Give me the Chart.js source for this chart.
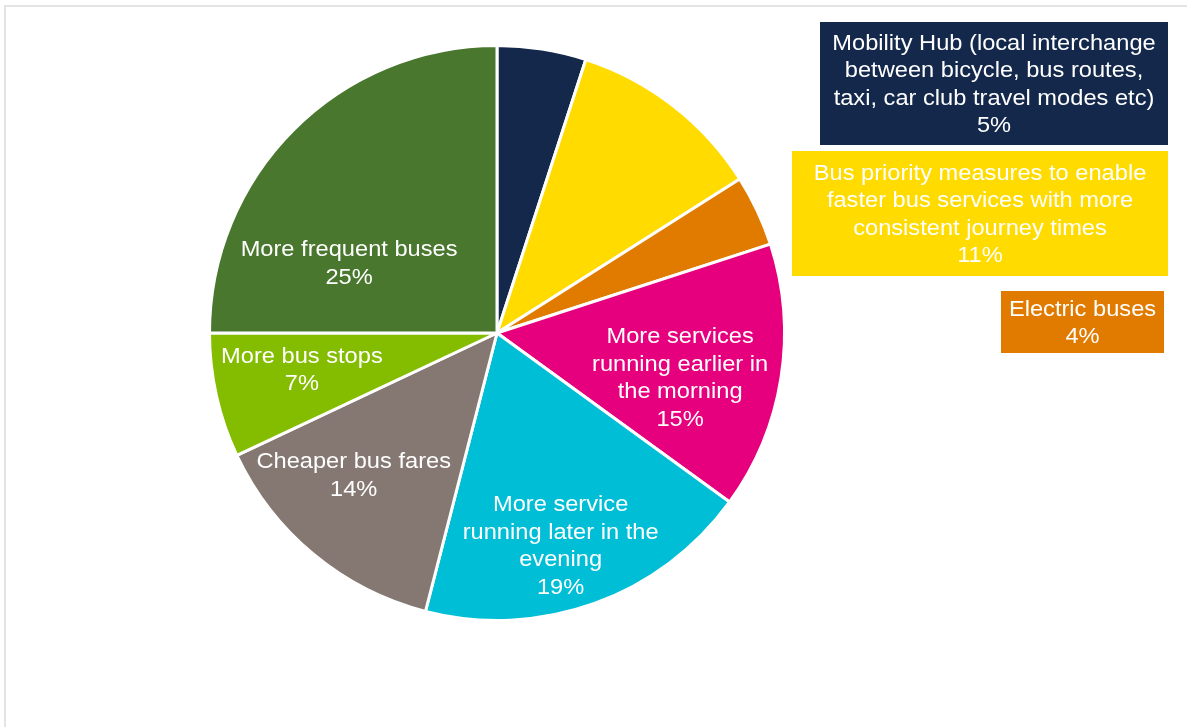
<!DOCTYPE html>
<html>
<head>
<meta charset="utf-8">
<script src="https://cdn.jsdelivr.net/npm/chart.js@4/dist/chart.umd.min.js"></script>
<style>
  html, body { margin: 0; padding: 0; background: #fff; }
  #wrap { width: 1187px; height: 727px; }
</style>
</head>
<body>
<div id="wrap"><canvas id="myChart"></canvas></div>
<script>
// survey answers, clockwise from 12 o'clock
const categories = [
  ['Mobility Hub (local interchange', 'between bicycle, bus routes,', 'taxi, car club travel modes etc)'],
  ['Bus priority measures to enable', 'faster bus services with more', 'consistent journey times'],
  ['Electric buses'],
  ['More services', 'running earlier in', 'the morning'],
  ['More service', 'running later in the', 'evening'],
  ['Cheaper bus fares'],
  ['More bus stops'],
  ['More frequent buses']
];
const shares = [5, 11, 4, 15, 19, 14, 7, 25];
const colours = ['#13284b', '#ffdb00', '#e07b00', '#e6007e', '#00bed6', '#857873', '#84bd00', '#4a772e'];

// labels sitting inside their slice: [fraction of radius, angle nudge in degrees]
const inside = { 3: [0.655, 4.5], 4: [0.77, 3.1], 5: [0.70, 5.8], 6: [0.69, 2.2], 7: [0.57, -19.5] };
// thin slices get a coloured box on the right instead: [x, y, w, h]
const callouts = { 0: [820, 22, 348, 123], 1: [792, 151, 376, 125], 2: [1001, 291, 163, 62] };

const FONT = '21.5px "Liberation Sans", Arial, sans-serif';
const LINE = 27.5;
const STRETCH = 1.1;

function drawBlock(ctx, lines, cx, cy) {
  ctx.save();
  ctx.font = FONT;
  ctx.fillStyle = '#ffffff';
  ctx.textAlign = 'center';
  ctx.textBaseline = 'alphabetic';
  const top = cy - (lines.length - 1) * LINE / 2;
  lines.forEach((t, k) => {
    ctx.save();
    ctx.translate(cx, top + k * LINE + 7.7);
    ctx.scale(STRETCH, 1);
    ctx.fillText(t, 0, 0);
    ctx.restore();
  });
  ctx.restore();
}

const sliceLabels = {
  id: 'sliceLabels',
  beforeDraw(chart) {
    const ctx = chart.ctx;
    ctx.save();
    ctx.fillStyle = '#e4e4e4';
    ctx.fillRect(4, 5, chart.width - 4, 2);
    ctx.fillRect(4, 5, 2, chart.height - 5);
    ctx.restore();
  },
  afterDatasetsDraw(chart) {
    const ctx = chart.ctx;
    const meta = chart.getDatasetMeta(0);
    const data = chart.data.datasets[0].data;
    meta.data.forEach((arc, i) => {
      const lines = chart.data.labels[i].concat([data[i] + '%']);
      if (inside[i]) {
        const p = arc.getProps(['x', 'y', 'startAngle', 'endAngle', 'outerRadius'], true);
        const [frac, nudge] = inside[i];
        const a = (p.startAngle + p.endAngle) / 2 + nudge * Math.PI / 180;
        const r = p.outerRadius * frac;
        drawBlock(ctx, lines, p.x + Math.cos(a) * r, p.y + Math.sin(a) * r);
      } else if (callouts[i]) {
        const [x, y, w, h] = callouts[i];
        ctx.save();
        ctx.fillStyle = chart.data.datasets[0].backgroundColor[i];
        ctx.fillRect(x, y, w, h);
        ctx.restore();
        drawBlock(ctx, lines, x + w / 2, y + h / 2);
      }
    });
  }
};

const ctx = document.getElementById('myChart').getContext('2d');
new Chart(ctx, {
  type: 'pie',
  data: {
    labels: categories,
    datasets: [{
      data: shares,
      backgroundColor: colours,
      borderColor: '#ffffff',
      borderWidth: 3,
      hoverOffset: 0
    }]
  },
  options: {
    responsive: true,
    maintainAspectRatio: false,
    animation: false,
    layout: { padding: { top: 44, bottom: 105, left: 208, right: 401 } },
    plugins: {
      legend: { display: false },
      tooltip: { enabled: false }
    }
  },
  plugins: [sliceLabels]
});
</script>
</body>
</html>
